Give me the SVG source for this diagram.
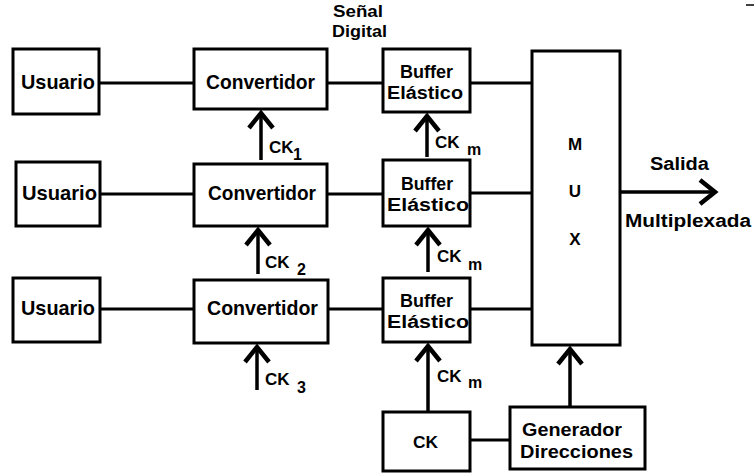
<svg xmlns="http://www.w3.org/2000/svg" width="754" height="476" viewBox="0 0 754 476">
<style>
.box{fill:#fff;stroke:#000;stroke-width:3}
.ln{fill:none;stroke:#000;stroke-width:3}
.ar{fill:none;stroke:#000;stroke-width:3.5;marker-end:url(#chev)}
text{font-family:"Liberation Sans Narrow","Liberation Sans",Arial,sans-serif;font-weight:bold;fill:#000}
.t{font-size:21px}
.b{font-size:18px}
.ck{font-size:17px}
.sub{font-size:16px}
</style>
<defs>
<marker id="chev" markerUnits="userSpaceOnUse" viewBox="-20 -20 40 40" markerWidth="40" markerHeight="40" refX="0" refY="0" orient="auto">
<path d="M-15,-12 L0,0 L-15,12" fill="none" stroke="#000" stroke-width="4.5" stroke-linejoin="miter"/>
</marker>
</defs>
<rect width="754" height="476" fill="#fff"/>
<g id="connectors">
<line class="ln" x1="99" y1="83" x2="194" y2="83"/>
<line class="ln" x1="327" y1="83" x2="383" y2="83"/>
<line class="ln" x1="470" y1="83" x2="532" y2="83"/>
<line class="ln" x1="100" y1="194" x2="194" y2="194"/>
<line class="ln" x1="327" y1="194" x2="383" y2="194"/>
<line class="ln" x1="470" y1="193" x2="532" y2="193"/>
<line class="ln" x1="100" y1="309" x2="194" y2="309"/>
<line class="ln" x1="328" y1="309" x2="383" y2="309"/>
<line class="ln" x1="470" y1="309" x2="532" y2="309"/>
<line class="ln" x1="470" y1="440" x2="510" y2="440"/>
<line class="ar" x1="261" y1="160" x2="261" y2="113"/>
<line class="ar" x1="258" y1="274" x2="258" y2="230"/>
<line class="ar" x1="257" y1="390" x2="257" y2="347"/>
<line class="ar" x1="427" y1="157" x2="427" y2="116"/>
<line class="ar" x1="428" y1="272" x2="428" y2="230"/>
<line class="ar" x1="428" y1="412" x2="428" y2="346"/>
<line class="ar" x1="570" y1="407" x2="570" y2="349"/>
<line class="ar" x1="620" y1="192" x2="715" y2="192"/>
</g>
<g id="usuario1"><rect class="box" x="13" y="49" width="86" height="65"/><text class="t" x="21" y="89" textLength="74" lengthAdjust="spacingAndGlyphs">Usuario</text></g>
<g id="usuario2"><rect class="box" x="16" y="162" width="84" height="64"/><text class="t" x="22" y="200" textLength="75" lengthAdjust="spacingAndGlyphs">Usuario</text></g>
<g id="usuario3"><rect class="box" x="13" y="278" width="87" height="64"/><text class="t" x="21" y="315" textLength="74" lengthAdjust="spacingAndGlyphs">Usuario</text></g>
<g id="convertidor1"><rect class="box" x="194" y="49" width="133" height="60"/><text class="t" x="206" y="89" textLength="109" lengthAdjust="spacingAndGlyphs">Convertidor</text></g>
<g id="convertidor2"><rect class="box" x="194" y="164" width="133" height="62"/><text class="t" x="208" y="200" textLength="108" lengthAdjust="spacingAndGlyphs">Convertidor</text></g>
<g id="convertidor3"><rect class="box" x="194" y="280" width="134" height="63"/><text class="t" x="207" y="315" textLength="111" lengthAdjust="spacingAndGlyphs">Convertidor</text></g>
<g id="buffer1"><rect class="box" x="383" y="49" width="87" height="63"/><text class="b" x="400" y="78" textLength="53" lengthAdjust="spacingAndGlyphs">Buffer</text><text class="b" x="387" y="99" textLength="76" lengthAdjust="spacingAndGlyphs">Elástico</text></g>
<g id="buffer2"><rect class="box" x="383" y="160" width="87" height="66"/><text class="b" x="401" y="190" textLength="52" lengthAdjust="spacingAndGlyphs">Buffer</text><text class="b" x="387" y="211" textLength="82" lengthAdjust="spacingAndGlyphs">Elástico</text></g>
<g id="buffer3"><rect class="box" x="383" y="278" width="87" height="64"/><text class="b" x="400" y="307" textLength="53" lengthAdjust="spacingAndGlyphs">Buffer</text><text class="b" x="387" y="328" textLength="82" lengthAdjust="spacingAndGlyphs">Elástico</text></g>
<g id="mux"><rect class="box" x="532" y="51" width="88" height="294"/><text class="ck" x="575" y="150" text-anchor="middle">M</text><text class="ck" x="575" y="197" text-anchor="middle">U</text><text class="ck" x="575" y="245" text-anchor="middle">X</text></g>
<g id="ck"><rect class="box" x="383" y="412" width="87" height="59"/><text class="ck" x="413" y="448" textLength="25" lengthAdjust="spacingAndGlyphs">CK</text></g>
<g id="generador"><rect class="box" x="510" y="407" width="135" height="62"/><text class="b" x="522" y="436" textLength="100" lengthAdjust="spacingAndGlyphs">Generador</text><text class="b" x="520" y="458" textLength="113" lengthAdjust="spacingAndGlyphs">Direcciones</text></g>
<g id="labels">
<text class="ck" x="333" y="17" textLength="50" lengthAdjust="spacingAndGlyphs">Señal</text>
<text class="ck" x="332" y="37" textLength="55" lengthAdjust="spacingAndGlyphs">Digital</text>
<text class="ck" x="269" y="153">CK</text><text class="sub" x="293" y="160">1</text>
<text class="ck" x="265" y="268">CK</text><text class="sub" x="297" y="275">2</text>
<text class="ck" x="265" y="385">CK</text><text class="sub" x="297" y="393">3</text>
<text class="ck" x="435" y="148">CK</text><text class="sub" x="467" y="155">m</text>
<text class="ck" x="437" y="262">CK</text><text class="sub" x="468" y="270">m</text>
<text class="ck" x="437" y="382">CK</text><text class="sub" x="468" y="388">m</text>
<text class="b" x="650" y="170" textLength="59" lengthAdjust="spacingAndGlyphs">Salida</text>
<text class="b" x="625" y="227" textLength="126" lengthAdjust="spacingAndGlyphs">Multiplexada</text>
</g>
<line x1="746" y1="5" x2="754" y2="5" stroke="#000" stroke-width="1.5"/>
</svg>
